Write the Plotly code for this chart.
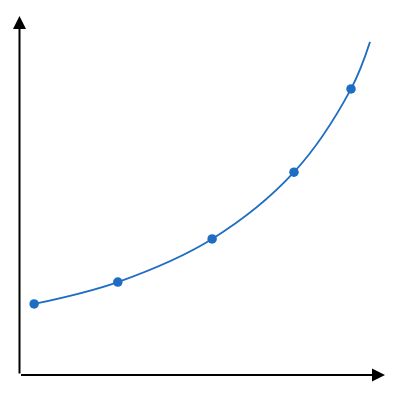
import plotly.graph_objects as go

# curve through the sampled points (axis units, origin at the arrow corner)
curve_x = [0.40, 2.69, 5.27, 7.51, 9.07, 9.59]
curve_y = [1.98, 2.59, 3.79, 5.65, 7.97, 9.28]

# highlighted points
pts_x = [0.40, 2.69, 5.27, 7.51, 9.07]
pts_y = [1.98, 2.59, 3.79, 5.65, 7.97]

blue = "#1f6dc2"

fig = go.Figure()
fig.add_scatter(x=curve_x, y=curve_y, mode="lines",
                line=dict(color=blue, width=1.8, shape="spline", smoothing=1.0),
                hoverinfo="skip")
fig.add_scatter(x=pts_x, y=pts_y, mode="markers",
                marker=dict(color=blue, size=9.5))

# axes drawn as arrows
fig.add_annotation(x=0, y=10.0, ax=0, ay=0, xref="x", yref="y", axref="x", ayref="y",
                   text="", showarrow=True, arrowhead=2, arrowsize=1.3,
                   arrowwidth=2, arrowcolor="black")
fig.add_annotation(x=10.0, y=0, ax=0, ay=0, xref="x", yref="y", axref="x", ayref="y",
                   text="", showarrow=True, arrowhead=2, arrowsize=1.3,
                   arrowwidth=2, arrowcolor="black")

# page body adds ~8px offset, so ranges are shifted to compensate
fig.update_layout(
    width=400, height=400,
    margin=dict(l=0, r=0, t=0, b=0),
    paper_bgcolor="white", plot_bgcolor="white",
    showlegend=False,
    xaxis=dict(range=[-0.3146, 10.629], visible=False),
    yaxis=dict(range=[-0.919, 10.223], visible=False),
)
fig.write_html("out.html")
